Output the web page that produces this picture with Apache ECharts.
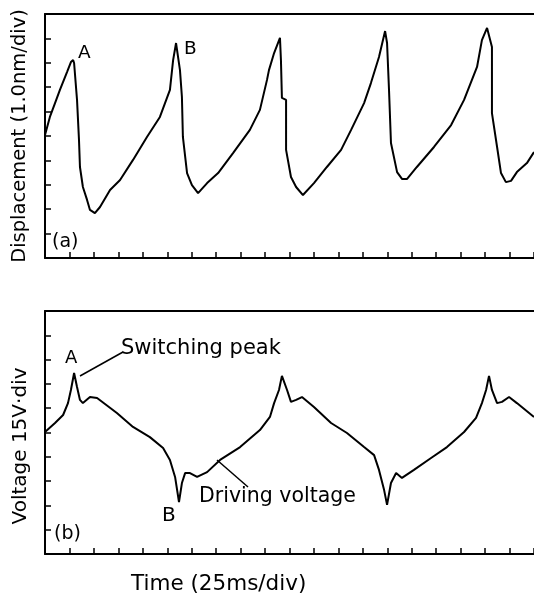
<!DOCTYPE html>
<html>
<head>
<meta charset="utf-8">
<script src="https://cdn.jsdelivr.net/npm/echarts@6/dist/echarts.min.js"></script>
<style>
  html, body { margin: 0; padding: 0; background: #fff; }
  #chart { width: 534px; height: 596px; }
</style>
</head>
<body>
<div id="chart"></div>
<script>
// time in divisions (25 ms/div), values in divisions
var dispX = [0, 0.20, 0.41, 0.61, 0.90, 1.06, 1.15, 1.19, 1.31, 1.39, 1.43, 1.55, 1.72, 1.84, 2.04, 2.25, 2.66, 3.07, 3.60, 4.17, 4.70, 5.11, 5.24, 5.36, 5.44, 5.52, 5.60, 5.64, 5.81, 6.01, 6.26, 6.63, 7.08, 7.69, 8.38, 8.79, 9.08, 9.16, 9.37, 9.61, 9.65, 9.69, 9.86, 9.86, 10.06, 10.27, 10.55, 11.00, 11.53, 12.11, 12.52, 13.05, 13.33, 13.66, 13.91, 13.99, 14.07, 14.15, 14.40, 14.60, 14.81, 15.21, 15.91, 16.61, 17.14, 17.67, 17.87, 18.08, 18.28, 18.28, 18.49, 18.65, 18.85, 19.06, 19.30, 19.71, 20.00];
var dispY = [5.04, 5.78, 6.35, 6.89, 7.62, 8.03, 8.11, 7.99, 6.48, 4.84, 3.73, 2.91, 2.38, 1.97, 1.84, 2.09, 2.79, 3.20, 4.02, 4.96, 5.78, 6.89, 8.11, 8.81, 8.73, 7.70, 6.60, 4.96, 3.48, 2.99, 2.66, 3.07, 3.48, 4.30, 5.25, 6.07, 7.30, 7.70, 8.40, 9.02, 8.11, 6.56, 6.48, 4.43, 3.32, 2.91, 2.58, 3.07, 3.73, 4.43, 5.25, 6.35, 7.17, 8.24, 9.30, 8.81, 6.89, 4.71, 3.52, 3.24, 3.24, 3.73, 4.55, 5.45, 6.48, 7.83, 8.93, 9.43, 8.65, 5.94, 4.55, 3.48, 3.11, 3.16, 3.52, 3.89, 4.34];

var voltX = [0, 0.41, 0.74, 0.94, 1.06, 1.19, 1.31, 1.43, 1.55, 1.84, 2.13, 2.94, 3.60, 4.29, 4.83, 5.11, 5.32, 5.48, 5.60, 5.73, 5.93, 6.22, 6.63, 7.16, 7.98, 8.79, 9.20, 9.37, 9.57, 9.69, 9.90, 10.06, 10.27, 10.51, 11.00, 11.70, 12.35, 13.05, 13.46, 13.66, 13.87, 13.99, 14.15, 14.36, 14.60, 15.09, 15.79, 16.44, 17.14, 17.63, 17.87, 18.04, 18.16, 18.28, 18.49, 18.69, 18.98, 19.30, 20.00];
var voltY = [5.02, 5.39, 5.72, 6.21, 6.75, 7.45, 6.87, 6.34, 6.21, 6.46, 6.42, 5.80, 5.23, 4.81, 4.36, 3.87, 3.17, 2.14, 2.92, 3.33, 3.33, 3.17, 3.37, 3.87, 4.40, 5.10, 5.64, 6.21, 6.75, 7.33, 6.75, 6.26, 6.34, 6.46, 6.05, 5.39, 4.98, 4.40, 4.07, 3.46, 2.63, 2.02, 2.92, 3.33, 3.13, 3.46, 3.95, 4.40, 5.02, 5.60, 6.21, 6.75, 7.33, 6.75, 6.21, 6.26, 6.46, 6.21, 5.64];

var FONT = 'DejaVu Sans';

function pairs(xs, ys) {
  var out = [];
  for (var i = 0; i < xs.length; i++) out.push([xs[i], ys[i]]);
  return out;
}

function xAx(gi, pos) {
  var bottom = pos === 'bottom';
  return {
    type: 'value', gridIndex: gi, position: pos, min: 0, max: 20, interval: 1,
    axisLine: { show: true, onZero: false, lineStyle: { color: '#000', width: 2 } },
    axisTick: { show: bottom, inside: true, length: 6, lineStyle: { color: '#000', width: 1.5 } },
    axisLabel: { show: false },
    splitLine: { show: false }
  };
}

function yAx(gi) {
  return {
    type: 'value', gridIndex: gi, min: 0, max: 10, interval: 1,
    axisLine: { show: true, onZero: false, lineStyle: { color: '#000', width: 2 } },
    axisTick: { show: true, inside: true, length: 6, lineStyle: { color: '#000', width: 1.5 } },
    axisLabel: { show: false },
    splitLine: { show: false }
  };
}

function txt(x, y, s, size) {
  return { type: 'text', left: x, top: y, style: { text: s, fontFamily: FONT, fontSize: size || 17, fill: '#000' } };
}

function vtxt(x, y, s, size) {
  return { type: 'text', x: x, y: y, rotation: Math.PI / 2,
    style: { text: s, fontFamily: FONT, fontSize: size, fill: '#000', align: 'center', verticalAlign: 'middle' } };
}

var chart = echarts.init(document.getElementById('chart'));
chart.setOption({
  animation: false,
  backgroundColor: '#fff',
  grid: [
    { left: 45, top: 14, width: 489, height: 244 },
    { left: 45, top: 311, width: 489, height: 243 }
  ],
  xAxis: [xAx(0, 'bottom'), xAx(0, 'top'), xAx(1, 'bottom'), xAx(1, 'top')],
  yAxis: [yAx(0), yAx(1)],
  series: [
    { type: 'line', xAxisIndex: 0, yAxisIndex: 0, data: pairs(dispX, dispY), showSymbol: false,
      lineStyle: { color: '#000', width: 2 } },
    { type: 'line', xAxisIndex: 2, yAxisIndex: 1, data: pairs(voltX, voltY), showSymbol: false,
      lineStyle: { color: '#000', width: 2 } }
  ],
  graphic: [
    vtxt(20, 136, 'Displacement (1.0nm/div)', 19.5),
    vtxt(21, 446, 'Voltage 15V·div', 20),
    txt(78, 44, 'A', 18.5),
    txt(184, 40, 'B', 18.5),
    txt(52, 233, '(a)', 19),
    txt(65, 349, 'A', 18),
    txt(162, 506, 'B', 20),
    txt(54, 525, '(b)', 19),
    txt(121, 338, 'Switching peak', 21),
    txt(199, 486, 'Driving voltage', 20.5),
    txt(131, 573, 'Time (25ms/div)', 21.5),
    { type: 'line', shape: { x1: 123, y1: 352, x2: 80, y2: 376 }, style: { stroke: '#000', lineWidth: 1.5 } },
    { type: 'line', shape: { x1: 217, y1: 460, x2: 248, y2: 487 }, style: { stroke: '#000', lineWidth: 1.5 } }
  ]
});
</script>
</body>
</html>
